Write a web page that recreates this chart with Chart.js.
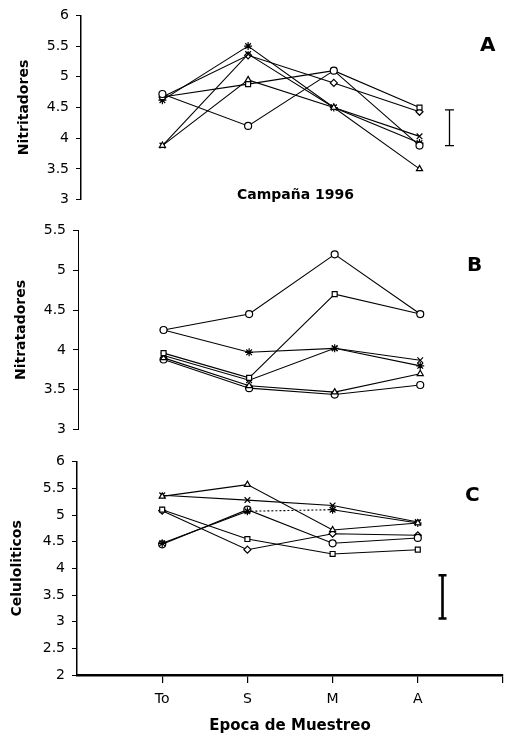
<!DOCTYPE html>
<html>
<head>
<meta charset="utf-8">
<script src="https://cdn.jsdelivr.net/npm/chart.js@4/dist/chart.umd.min.js"></script>
<style>
  body { margin: 0; background: #fff; width: 511px; height: 740px; position: relative; overflow: hidden; }
  canvas { position: absolute; left: 0; }
  .rotulo { position: absolute; font-family: "DejaVu Sans", sans-serif; font-weight: bold; color: #000; white-space: nowrap; }
</style>
</head>
<body>
<canvas id="cA" width="511" height="215" style="top:0"></canvas>
<canvas id="cB" width="511" height="230" style="top:215px"></canvas>
<canvas id="cC" width="511" height="295" style="top:445px"></canvas>

<div class="rotulo" style="left:480px;top:33px;font-size:20px;line-height:22px">A</div>
<div class="rotulo" style="left:237px;top:186px;font-size:14px;line-height:17px">Campaña 1996</div>
<div class="rotulo" style="left:467px;top:253px;font-size:20px;line-height:22px">B</div>
<div class="rotulo" style="left:465px;top:483px;font-size:20px;line-height:22px">C</div>

<script>
// ─── Datos ───────────────────────────────────────────────
const epocas = ['To', 'S', 'M', 'A'];
const posX = [1, 2, 3, 4];

// A — Nitritadores (Campaña 1996)
const nitCirculo   = [4.72, 4.20, 5.10, 3.88];
const nitCuadrado  = [4.67, 4.88, 5.10, 4.50];
const nitTriangulo = [3.88, 4.95, 4.50, 3.50];
const nitCruz      = [3.88, 5.37, 4.50, 4.03];
const nitAsterisco = [4.62, 5.50, 4.50, 3.92];
const nitRombo     = [4.67, 5.35, 4.90, 4.43];
const nitErrorX = 4.35;
const nitError  = [3.88, 4.46];

// B — Nitratadores
const natCirculo   = [4.25, 4.45, 5.20, 4.45];
const natAsterisco = [4.25, 3.97, 4.02, 3.80];
const natCuadrado  = [3.96, 3.65, 4.70, 4.45];
const natCruz      = [3.93, 3.62, 4.02, 3.87];
const natTriangulo = [3.90, 3.55, 3.47, 3.70];
const natRombo     = [3.88, 3.52, 3.44, 3.56];

// C — Celuloliticos
const celTriangulo = [5.35, 5.57, 4.72, 4.85];
const celCruz      = [5.37, 5.28, 5.18, 4.87];
const celAsterisco = [4.47, 5.07, 5.10, 4.85];
const celCirculo   = [4.45, 5.10, 4.47, 4.57];
const celCuadrado  = [5.10, 4.55, 4.27, 4.35];
const celRombo     = [5.08, 4.35, 4.65, 4.62];
const celErrorX = 4.29;
const celError  = [3.06, 3.87];

// ─── Helpers ─────────────────────────────────────────────
const FUENTE = '"DejaVu Sans", sans-serif';

function serie(valores, estilo, tramoPunteado) {
  const ds = {
    data: valores.map((v, i) => ({ x: posX[i], y: v })),
    showLine: true,
    borderColor: '#000',
    borderWidth: 1.1,
    pointStyle: estilo,
    pointRadius: (estilo === 'star' || estilo === 'crossRot') ? 4 : 3.5,
    pointBorderWidth: 1.2,
    pointBorderColor: '#000',
    pointBackgroundColor: '#fff'
  };
  if (tramoPunteado !== undefined) {
    ds.segment = { borderDash: c => c.p0DataIndex === tramoPunteado ? [2, 2] : undefined };
  }
  return ds;
}

function barraError(x, rango, grosor, ancho) {
  return {
    data: rango.map(v => ({ x, y: v })),
    showLine: true,
    borderColor: '#000',
    borderWidth: grosor,
    pointStyle: 'line',
    pointRadius: ancho,
    pointBorderWidth: grosor,
    pointBorderColor: '#000'
  };
}

function ejeY(min, max, izquierda, titulo, padTitulo, grosor) {
  return {
    min, max,
    ticks: { stepSize: 0.5, color: '#000', padding: 7, font: { family: FUENTE, size: 14 },
             callback: v => String(v) },
    grid: { drawOnChartArea: false, tickLength: 5, color: '#000', lineWidth: 1 },
    border: { color: '#000', width: grosor },
    title: { display: true, text: titulo, color: '#000', padding: { top: padTitulo, bottom: 0 },
             font: { family: FUENTE, size: 14, weight: 'bold' } },
    afterFit: s => { s.width = izquierda; }
  };
}

function panel(id, datasets, xMin, ejeYCfg, padding, ejeX) {
  return new Chart(document.getElementById(id), {
    type: 'scatter',
    data: { datasets },
    options: {
      responsive: false,
      animation: false,
      layout: { padding },
      plugins: { legend: { display: false }, tooltip: { enabled: false } },
      scales: {
        x: ejeX || { type: 'linear', min: xMin, max: 5, display: false },
        y: ejeYCfg
      }
    }
  });
}

// ─── Panel A ─────────────────────────────────────────────
panel('cA', [
  serie(nitCirculo, 'circle'),
  serie(nitCuadrado, 'rect'),
  serie(nitTriangulo, 'triangle'),
  serie(nitCruz, 'crossRot'),
  serie(nitAsterisco, 'star'),
  serie(nitRombo, 'rectRot'),
  barraError(nitErrorX, nitError, 1.3, 4.5)
], 0.05, ejeY(3, 6, 81, 'Nitritadores', 16, 1.5), { top: 15, right: 3, bottom: 11, left: 0 });

// ─── Panel B ─────────────────────────────────────────────
panel('cB', [
  serie(natCirculo, 'circle'),
  serie(natAsterisco, 'star'),
  serie(natCuadrado, 'rect'),
  serie(natCruz, 'crossRot'),
  serie(natTriangulo, 'triangle'),
  serie(natRombo, 'circle')
], 0.0, ejeY(3, 5.5, 78, 'Nitratadores', 13, 1), { top: 15, right: 3, bottom: 13, left: 0 });

// ─── Panel C ─────────────────────────────────────────────
panel('cC', [
  serie(celTriangulo, 'triangle'),
  serie(celCruz, 'crossRot'),
  serie(celAsterisco, 'star', 1),
  serie(celCirculo, 'circle'),
  serie(celCuadrado, 'rect'),
  serie(celRombo, 'rectRot'),
  barraError(celErrorX, celError, 2.6, 4)
], 0, ejeY(2, 6, 77, 'Celuloliticos', 9, 1.5), { top: 16.7, right: 3, bottom: 0, left: 0 }, {
  type: 'linear', min: 0, max: 5,
  ticks: {
    stepSize: 1, autoSkip: false, color: '#000', padding: 8,
    font: { family: FUENTE, size: 14 },
    callback: v => epocas[v - 1] || ''
  },
  grid: { drawOnChartArea: false, tickLength: 8, lineWidth: 1.2,
          color: c => c.tick && c.tick.value === 0 ? 'rgba(0,0,0,0)' : '#000' },
  border: { color: '#000', width: 2.6 },
  title: { display: true, text: 'Epoca de Muestreo', color: '#000', padding: { top: 0, bottom: 5 },
           font: { family: FUENTE, size: 15, weight: 'bold' } },
  afterFit: s => { s.height = 65; }
});
</script>
</body>
</html>
